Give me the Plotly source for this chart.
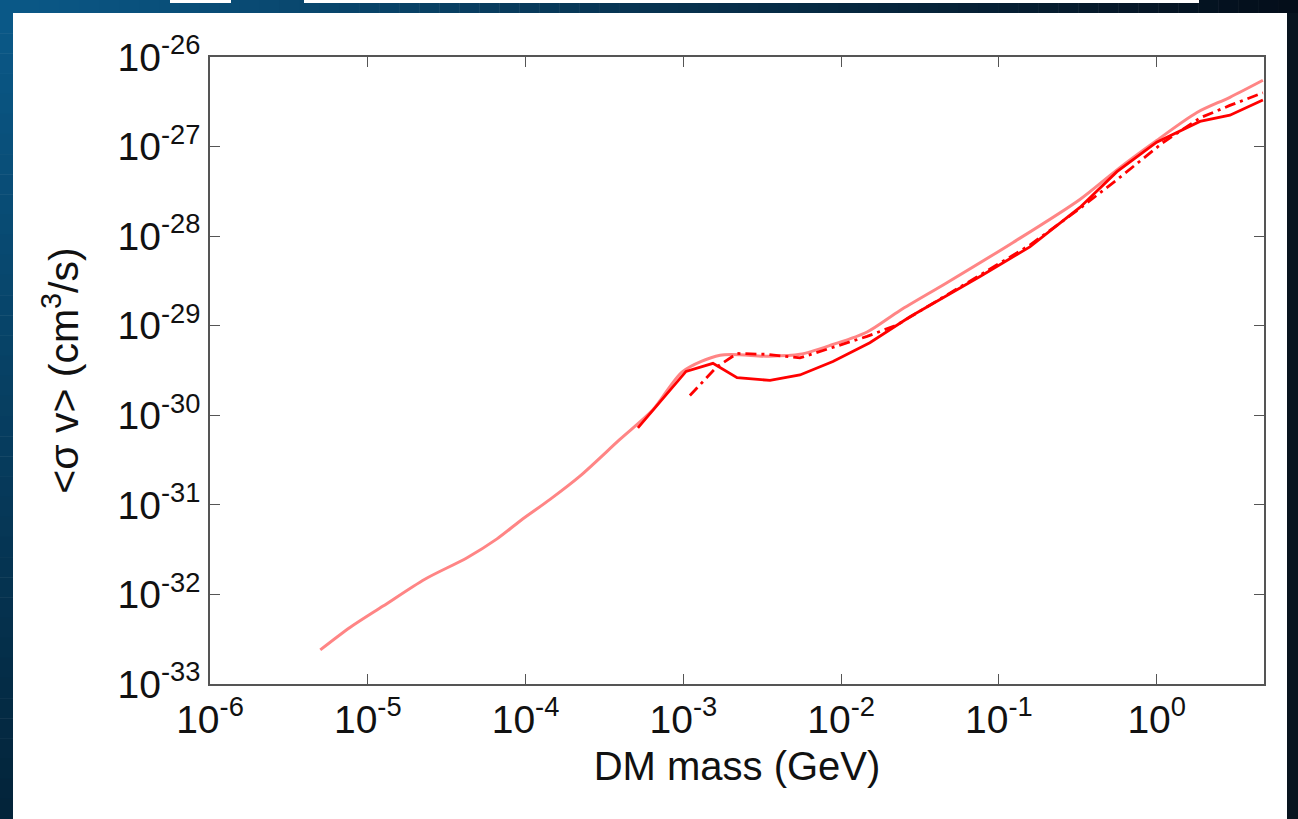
import plotly.graph_objects as go

# ---------------- data ----------------
mass_light = [5.0e-6, 7.71e-6, 1.25e-5, 2.30e-5, 4.26e-5, 6.59e-5, 9.23e-5, 1.43e-4,
              2.21e-4, 3.96e-4, 6.41e-4, 9.93e-4, 1.71e-3, 3.39e-3, 5.48e-3, 8.87e-3,
              1.46e-2, 2.36e-2, 4.68e-2, 0.123, 0.326, 0.560, 1.00, 1.80, 2.91, 4.71]
sv_light = [2.40e-33, 4.27e-33, 7.41e-33, 1.48e-32, 2.57e-32, 4.17e-32, 6.61e-32, 1.15e-31,
            2.09e-31, 5.37e-31, 1.15e-30, 3.09e-30, 4.68e-30, 4.57e-30, 4.79e-30, 6.17e-30,
            8.51e-30, 1.48e-29, 3.02e-29, 8.51e-29, 2.57e-28, 5.50e-28, 1.17e-27, 2.40e-27,
            3.55e-27, 5.50e-27]

mass_solid = [5.15e-4, 1.04e-3, 1.54e-3, 2.19e-3, 3.54e-3, 5.48e-3, 8.87e-3, 1.52e-2,
              2.73e-2, 7.59e-2, 0.157, 0.326, 0.560, 1.00, 1.88, 2.91, 4.71]
sv_solid = [7.24e-31, 3.09e-30, 3.80e-30, 2.63e-30, 2.45e-30, 2.82e-30, 3.98e-30, 6.46e-30,
            1.26e-29, 3.55e-29, 7.59e-29, 2.09e-28, 5.25e-28, 1.12e-27, 1.91e-27, 2.24e-27,
            3.31e-27]

mass_dashdot = [1.10e-3, 1.63e-3, 2.19e-3, 3.39e-3, 5.48e-3, 8.87e-3, 1.46e-2, 2.26e-2,
                7.59e-2, 0.157, 0.326, 0.560, 1.09, 1.88, 2.91, 4.71]
sv_dashdot = [1.66e-30, 3.47e-30, 4.90e-30, 4.79e-30, 4.37e-30, 5.70e-30, 7.60e-30, 1.02e-29,
              3.72e-29, 7.94e-29, 2.04e-28, 4.27e-28, 1.10e-27, 2.09e-27, 2.88e-27, 3.98e-27]

x_tickvals = [1e-6, 1e-5, 1e-4, 1e-3, 1e-2, 1e-1, 1e0]
x_ticktext = ["10<sup>-6</sup>", "10<sup>-5</sup>", "10<sup>-4</sup>", "10<sup>-3</sup>",
              "10<sup>-2</sup>", "10<sup>-1</sup>", "10<sup>0</sup>"]
y_tickvals = [1e-33, 1e-32, 1e-31, 1e-30, 1e-29, 1e-28, 1e-27, 1e-26]
y_ticktext = ["10<sup>-33</sup>", "10<sup>-32</sup>", "10<sup>-31</sup>", "10<sup>-30</sup>",
              "10<sup>-29</sup>", "10<sup>-28</sup>", "10<sup>-27</sup>", "10<sup>-26</sup>"]

x_title = "DM mass (GeV)"
y_title = "&lt;σ v&gt; (cm<sup>3</sup>/s)"

# ---------------- figure ----------------
W, H = 1298, 819
L, R, T, B = 210, 34, 57, 135
PW, PH = W - L - R, H - T - B
FONT = "Liberation Sans, Arial, Helvetica, sans-serif"

fig = go.Figure()
fig.add_trace(go.Scatter(x=mass_light, y=sv_light, mode="lines",
                         line=dict(color="#ff8585", width=3, shape="spline", smoothing=0.8),
                         showlegend=False))
fig.add_trace(go.Scatter(x=mass_solid, y=sv_solid, mode="lines",
                         line=dict(color="#ff0000", width=2.8), showlegend=False))
fig.add_trace(go.Scatter(x=mass_dashdot, y=sv_dashdot, mode="lines",
                         line=dict(color="#ff0000", width=2.8, dash="11px,5px,3px,5px"),
                         showlegend=False))


def px_to_paper_x(px):
    return (px - L) / PW


def py_to_paper_y(py):
    return (H - B - py) / PH


def lerp(c1, c2, t):
    return "#%02x%02x%02x" % tuple(int(round(a + (b - a) * t)) for a, b in zip(c1, c2))


shapes = []
# top band gradient (left blue -> right near black)
top_h = 13
n = 65
c_left, c_right = (10, 88, 135), (4, 14, 26)
for i in range(n):
    x0 = W * i / n
    x1 = W * (i + 1) / n + 0.5
    shapes.append(dict(type="rect", xref="paper", yref="paper",
                       x0=px_to_paper_x(x0), x1=px_to_paper_x(x1),
                       y0=py_to_paper_y(top_h), y1=py_to_paper_y(0),
                       fillcolor=lerp(c_left, c_right, i / (n - 1)), line=dict(width=0),
                       layer="below"))
# left band gradient (top blue -> bottom dark)
m = 40
c_top, c_bot = (10, 88, 135), (3, 36, 58)
for j in range(m):
    y0 = top_h + (H - top_h) * j / m
    y1 = top_h + (H - top_h) * (j + 1) / m + 0.5
    shapes.append(dict(type="rect", xref="paper", yref="paper",
                       x0=px_to_paper_x(0), x1=px_to_paper_x(13),
                       y0=py_to_paper_y(y1), y1=py_to_paper_y(y0),
                       fillcolor=lerp(c_top, c_bot, j / (m - 1)), line=dict(width=0),
                       layer="below"))
# right dark band
shapes.append(dict(type="rect", xref="paper", yref="paper",
                   x0=px_to_paper_x(1287), x1=px_to_paper_x(W + 1),
                   y0=py_to_paper_y(H + 1), y1=py_to_paper_y(top_h),
                   fillcolor="#08141f", line=dict(width=0), layer="below"))
# white slivers at the very top
for (a, b) in [(170, 231), (304, 1199)]:
    shapes.append(dict(type="rect", xref="paper", yref="paper",
                       x0=px_to_paper_x(a), x1=px_to_paper_x(b),
                       y0=py_to_paper_y(3), y1=py_to_paper_y(-1),
                       fillcolor="#ffffff", line=dict(width=0), layer="below"))

axis_common = dict(
    type="log", showgrid=False, zeroline=False, showline=True, linecolor="#555555",
    linewidth=1.5, mirror="ticks", ticks="inside", ticklen=10, tickwidth=1.2,
    tickcolor="#555555", tickmode="array",
    tickfont=dict(family=FONT, size=39, color="#111111"),
)

fig.update_layout(
    width=W, height=H,
    margin=dict(l=L, r=R, t=T, b=B),
    paper_bgcolor="#ffffff", plot_bgcolor="#ffffff",
    shapes=shapes,
    xaxis=dict(range=[-6, 0.68], tickvals=x_tickvals, ticktext=x_ticktext, **axis_common,
               title=dict(text=x_title, standoff=12,
                          font=dict(family=FONT, size=40, color="#111111"))),
    yaxis=dict(range=[-33, -26], tickvals=y_tickvals, ticktext=y_ticktext, **axis_common,
               title=dict(text=y_title, standoff=26,
                          font=dict(family=FONT, size=41, color="#111111"))),
)

fig.write_html("out.html")
